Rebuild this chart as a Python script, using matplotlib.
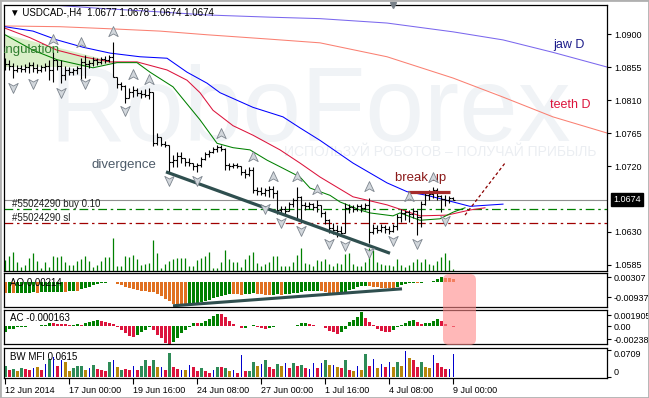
import numpy as np
import matplotlib
matplotlib.use("Agg")
import matplotlib.pyplot as plt
from matplotlib.path import Path
from matplotlib.patches import FancyBboxPatch, Polygon, Rectangle
from matplotlib.transforms import blended_transform_factory
from matplotlib.ticker import FormatStrFormatter

plt.rcParams['font.family'] = ['Liberation Sans', 'DejaVu Sans']

# --- USDCAD H4 bars ---
first_open = 1.0862
high = [1.0867, 1.0865, 1.0861, 1.0858, 1.0858, 1.0859, 1.0862, 1.0862, 1.0859, 1.0858,
        1.0861, 1.0865, 1.0875, 1.0865, 1.0865, 1.0856, 1.0855, 1.0854, 1.0856, 1.0867,
        1.0871, 1.0865, 1.0869, 1.0867, 1.0869, 1.0870, 1.0871, 1.0889, 1.0841, 1.0835,
        1.0830, 1.0826, 1.0829, 1.0826, 1.0824, 1.0825, 1.0826, 1.0821, 1.0765, 1.0760,
        1.0754, 1.0749, 1.0735, 1.0739, 1.0739, 1.0731, 1.0731, 1.0724, 1.0724, 1.0732,
        1.0739, 1.0742, 1.0746, 1.0749, 1.0749, 1.0745, 1.0724, 1.0724, 1.0724, 1.0720,
        1.0716, 1.0719, 1.0719, 1.0691, 1.0691, 1.0690, 1.0693, 1.0693, 1.0687, 1.0665,
        1.0665, 1.0671, 1.0676, 1.0691, 1.0679, 1.0671, 1.0671, 1.0670, 1.0674, 1.0667,
        1.0659, 1.0648, 1.0642, 1.0640, 1.0638, 1.0670, 1.0668, 1.0667, 1.0668, 1.0668,
        1.0670, 1.0676, 1.0641, 1.0640, 1.0641, 1.0640, 1.0638, 1.0641, 1.0655, 1.0661,
        1.0660, 1.0660, 1.0663, 1.0660, 1.0672, 1.0685, 1.0687, 1.0691, 1.0690, 1.0680,
        1.0680, 1.0679, 1.0678]
low = [1.0851, 1.0851, 1.0840, 1.0848, 1.0848, 1.0848, 1.0847, 1.0848, 1.0847, 1.0848,
       1.0850, 1.0837, 1.0835, 1.0851, 1.0833, 1.0837, 1.0844, 1.0844, 1.0845, 1.0837,
       1.0840, 1.0854, 1.0856, 1.0858, 1.0859, 1.0861, 1.0862, 1.0841, 1.0826, 1.0824,
       1.0806, 1.0813, 1.0814, 1.0815, 1.0813, 1.0814, 1.0811, 1.0747, 1.0749, 1.0747,
       1.0746, 1.0712, 1.0719, 1.0719, 1.0724, 1.0720, 1.0720, 1.0715, 1.0712, 1.0719,
       1.0728, 1.0732, 1.0738, 1.0739, 1.0740, 1.0715, 1.0715, 1.0717, 1.0717, 1.0708,
       1.0704, 1.0706, 1.0683, 1.0680, 1.0680, 1.0679, 1.0678, 1.0676, 1.0655, 1.0656,
       1.0655, 1.0659, 1.0664, 1.0646, 1.0642, 1.0660, 1.0661, 1.0660, 1.0657, 1.0650,
       1.0641, 1.0629, 1.0627, 1.0623, 1.0625, 1.0628, 1.0656, 1.0657, 1.0659, 1.0657,
       1.0660, 1.0615, 1.0627, 1.0629, 1.0630, 1.0629, 1.0627, 1.0630, 1.0633, 1.0644,
       1.0646, 1.0644, 1.0649, 1.0626, 1.0637, 1.0667, 1.0674, 1.0676, 1.0674, 1.0657,
       1.0665, 1.0670, 1.0674]
close = [1.0859, 1.0856, 1.0851, 1.0854, 1.0852, 1.0855, 1.0858, 1.0854, 1.0851, 1.0855,
         1.0856, 1.0851, 1.0865, 1.0856, 1.0844, 1.0851, 1.0848, 1.0851, 1.0854, 1.0862,
         1.0859, 1.0861, 1.0865, 1.0862, 1.0866, 1.0865, 1.0869, 1.0841, 1.0832, 1.0829,
         1.0813, 1.0821, 1.0824, 1.0820, 1.0818, 1.0817, 1.0821, 1.0751, 1.0760, 1.0750,
         1.0749, 1.0725, 1.0728, 1.0734, 1.0731, 1.0725, 1.0724, 1.0720, 1.0721, 1.0730,
         1.0736, 1.0739, 1.0743, 1.0746, 1.0743, 1.0721, 1.0720, 1.0721, 1.0720, 1.0712,
         1.0709, 1.0715, 1.0687, 1.0686, 1.0683, 1.0687, 1.0689, 1.0683, 1.0660, 1.0661,
         1.0659, 1.0668, 1.0674, 1.0678, 1.0667, 1.0665, 1.0668, 1.0664, 1.0667, 1.0656,
         1.0646, 1.0635, 1.0633, 1.0631, 1.0629, 1.0663, 1.0664, 1.0661, 1.0665, 1.0663,
         1.0667, 1.0630, 1.0635, 1.0633, 1.0637, 1.0634, 1.0631, 1.0638, 1.0650, 1.0656,
         1.0657, 1.0655, 1.0659, 1.0650, 1.0668, 1.0680, 1.0682, 1.0687, 1.0679, 1.0675,
         1.0674, 1.0677, 1.0674]
volume = [1100, 1500, 1900, 900, 400, 600, 1300, 1800, 1000, 300,
          900, 400, 1500, 1400, 1500, 900, 600, 600, 1000, 1200,
          1500, 1000, 400, 600, 1000, 1400, 1400, 3300, 500, 500,
          1500, 1400, 1600, 1200, 600, 700, 800, 3100, 1800, 300,
          700, 1000, 1200, 1300, 1300, 1300, 500, 500, 1100, 1300,
          1500, 1900, 300, 300, 900, 2100, 1200, 900, 900, 400,
          1200, 1600, 1900, 800, 500, 700, 900, 1500, 1500, 500,
          500, 500, 900, 1600, 2300, 800, 700, 500, 1100, 1000,
          1200, 700, 500, 800, 700, 1700, 1800, 700, 500, 500,
          900, 2300, 2100, 900, 700, 600, 600, 500, 1200, 600,
          400, 600, 900, 1200, 900, 1200, 700, 600, 1000, 1400,
          1800, 1100, 200]

# alligator lines (bar index, price)
jaw_x = [0, 7, 13, 19.5, 26.25, 33.75, 40.5, 45.5, 50.5, 53.75, 62, 69.5, 73.75,
         78.75, 87, 95.5, 100.5, 105.5, 112, 116.25, 124.5]
jaw_y = [1.0910, 1.0904, 1.0892, 1.0882, 1.0874, 1.0869, 1.0867, 1.0848, 1.0833, 1.0820,
         1.0800, 1.0787, 1.0772, 1.0755, 1.0724, 1.0697, 1.0685, 1.0680, 1.0671, 1.0665, 1.0668]
teeth_x = [0, 6.25, 13, 19.5, 26.25, 33, 40.5, 45.5, 48.75, 52, 57, 62, 68.75, 73.75,
           78.75, 87, 95.5, 103.75, 110.5, 116.25, 120]
teeth_y = [1.0908, 1.0895, 1.0878, 1.0869, 1.0862, 1.0862, 1.0851, 1.0837, 1.0820, 1.0796,
           1.0775, 1.0762, 1.0742, 1.0724, 1.0705, 1.0678, 1.0667, 1.0652, 1.0653, 1.0660, 1.0663]
lips_x = [0, 7, 13, 22, 28, 33, 36.25, 42, 48.75, 53, 57, 61.25, 65.5, 68.75, 73.75,
          76.25, 81.25, 83.75, 88.75, 91.25, 97, 98.75, 103.75, 108.75, 112, 115]
lips_y = [1.0899, 1.0878, 1.0865, 1.0854, 1.0861, 1.0861, 1.0848, 1.0828, 1.0783, 1.0751,
          1.0745, 1.0742, 1.0728, 1.0719, 1.0705, 1.0690, 1.0680, 1.0671, 1.0660, 1.0656,
          1.0652, 1.0656, 1.0646, 1.0648, 1.0657, 1.0663]
jaw_d_x = [10.75, 23.75, 36.25, 50.5, 66.25, 78.75, 95.5, 112, 124.5, 137, 150.5]
jaw_d_y = [1.0940, 1.0935, 1.0931, 1.0926, 1.0923, 1.0921, 1.0915, 1.0903, 1.0892, 1.0875, 1.0855]
teeth_d_x = [0, 13.75, 27, 38.75, 50.5, 66.25, 78.75, 95.5, 112, 124.5, 137, 150.5]
teeth_d_y = [1.0911, 1.0910, 1.0907, 1.0904, 1.0899, 1.0893, 1.0888, 1.0869, 1.0840, 1.0814,
             1.0787, 1.0765]

# fractals
up_idx = [12, 19, 27, 32, 36, 54, 62, 67, 73, 78, 91, 101, 107]
up_price = [1.0892, 1.0888, 1.0903, 1.0844, 1.0837, 1.0764, 1.0732, 1.0705, 1.0705,
            1.0687, 1.0691, 1.0678, 1.0704]
down_idx = [2, 7, 14, 20, 30, 41, 48, 65, 69, 74, 81, 85, 91, 97, 103, 110]
down_price = [1.0828, 1.0833, 1.0821, 1.0833, 1.0796, 1.0701, 1.0701, 1.0663, 1.0644,
              1.0633, 1.0615, 1.0612, 1.0603, 1.0619, 1.0615, 1.0646]

# oscillators (x 1e-3)
ao = [-6.90, -6.78, -6.96, -6.72, -6.60, -6.54, -6.48, -6.42, -6.54, -6.30,
      -6.24, -6.18, -6.12, -6.00, -5.94, -6.00, -5.82, -5.70, -5.82, -4.50,
      -3.60, -2.82, -2.10, -1.50, -0.90, -0.54, -0.30, -0.18, -1.20, -2.10,
      -3.00, -3.90, -4.50, -5.10, -5.40, -5.70, -6.00, -6.42, -7.20, -8.82,
      -10.38, -11.82, -13.80, -13.92, -13.98, -14.04, -13.80, -13.50, -12.90, -12.30,
      -11.70, -10.80, -9.90, -9.00, -8.40, -7.80, -7.20, -7.38, -7.56, -7.74,
      -7.50, -7.20, -6.90, -7.20, -7.50, -7.80, -8.10, -7.80, -7.50, -7.80,
      -7.50, -7.20, -6.90, -6.60, -6.30, -5.70, -5.58, -5.40, -5.28, -5.52,
      -6.00, -6.60, -6.90, -7.08, -6.60, -6.00, -5.10, -4.20, -3.30, -2.70,
      -2.40, -2.58, -3.00, -3.30, -3.60, -3.78, -3.96, -4.08, -3.00, -2.10,
      -1.50, -0.90, -0.48, -0.90, -0.36, -0.18, 0.12, 0.90, 1.80, 3.07,
      2.70, 2.40, 2.14]
ac = [-1.03, -0.59, -0.45, -0.22, -0.13, -0.09, -0.05, 0.04, 0.09, 0.14,
      0.27, 0.54, 0.50, 0.43, 0.36, 0.29, 0.22, 0.25, 0.29, 0.18,
      0.49, 0.77, 0.95, 1.08, 0.99, 0.81, 0.59, 0.36, -0.13, -0.72,
      -1.31, -1.71, -1.98, -1.62, -1.08, -0.63, -0.14, -0.72, -1.62, -2.21,
      -3.01, -3.15, -2.88, -2.11, -1.21, -0.72, -0.18, 0.54, 0.49, 0.63,
      0.90, 1.26, 1.80, 2.16, 2.12, 1.62, 0.90, 0.36, 0.05, -0.36,
      -0.27, 0.09, 0.13, -0.18, -0.36, -0.54, -0.36, -0.09, 0.09, 0.05,
      0.09, 0.07, 0.04, 0.27, 0.54, 0.58, 0.45, 0.18, -0.02, 0.05,
      -0.36, -0.90, -1.08, -1.35, -1.08, -0.45, 0.72, 1.17, 1.62, 2.52,
      1.44, 0.72, 0.18, -0.45, -0.90, -0.99, -1.03, -0.72, -0.18, 0.18,
      0.63, 0.99, 1.08, 0.72, 0.45, 0.54, 0.63, 0.90, 1.26, 0.90,
      0.45, -0.02, -0.163]
mfi = [0.0286, 0.0187, 0.0214, 0.0152, 0.0240, 0.0214, 0.0179, 0.0240, 0.0267, 0.0195,
       0.0355, 0.0481, 0.0534, 0.0286, 0.0462, 0.0392, 0.0152, 0.0240, 0.0302, 0.0286,
       0.0195, 0.0240, 0.0328, 0.0214, 0.0195, 0.0152, 0.0392, 0.0446, 0.0267, 0.0195,
       0.0214, 0.0179, 0.0286, 0.0179, 0.0302, 0.0462, 0.0286, 0.0462, 0.0267, 0.0267,
       0.0195, 0.0641, 0.0267, 0.0214, 0.0195, 0.0179, 0.0328, 0.0267, 0.0168, 0.0240,
       0.0168, 0.0107, 0.0195, 0.0267, 0.0259, 0.0240, 0.0152, 0.0195, 0.0107, 0.0595,
       0.0168, 0.0168, 0.0400, 0.0286, 0.0355, 0.0462, 0.0267, 0.0214, 0.0347, 0.0302,
       0.0374, 0.0240, 0.0374, 0.0302, 0.0328, 0.0240, 0.0214, 0.0374, 0.0240, 0.0374,
       0.0462, 0.0328, 0.0328, 0.0267, 0.0240, 0.0462, 0.0195, 0.0168, 0.0286, 0.0179,
       0.0622, 0.0302, 0.0481, 0.0240, 0.0355, 0.0267, 0.0392, 0.0267, 0.0400, 0.0286,
       0.0686, 0.0507, 0.0446, 0.0267, 0.0400, 0.0267, 0.0240, 0.0595, 0.0374, 0.0267,
       0.0214, 0.0214, 0.0615]
mfi_kind = ("g r g b g r r u b r  u g u r u b b g g g  b u g r r r g u b g  "
            "r r u r g g r g b u  r g r r u b u r r g  r r u g r g b u r u  "
            "r g g b u g r r g b  u r g r g r u u r u  g b u b r g r b u b  "
            "g r u b u r u b g b  u b r r g b b u r r  r u u").split()

tick_idx = [0, 16, 32, 48, 64, 80, 96, 112]
tick_lbl = ['12 Jun 2014', '17 Jun 00:00', '19 Jun 16:00', '24 Jun 08:00',
            '27 Jun 00:00', '1 Jul 16:00', '4 Jul 08:00', '9 Jul 00:00']

W, H = 649, 398
fig = plt.figure(figsize=(W / 100, H / 100), dpi=100)
fig.patch.set_facecolor('white')


def panel(top, bottom):
    return fig.add_axes([4 / W, 1 - bottom / H, 603 / W, (bottom - top) / H])


ax = panel(5, 271)
ax_ao = panel(273, 307)
ax_ac = panel(310, 344)
ax_mfi = panel(348, 378)

for a in (ax, ax_ao, ax_ac, ax_mfi):
    a.set_xlim(-0.25, 150.5)
    a.yaxis.tick_right()
    a.tick_params(axis='y', length=3, width=0.8, pad=2, labelsize=6.5, colors='black')
    a.tick_params(axis='x', bottom=False, labelbottom=False)
    for s in a.spines.values():
        s.set_color('black')
        s.set_linewidth(0.9)

idx = np.arange(len(close))
opens = [first_open] + close[:-1]

# --- main price panel ---
ax.set_ylim(1.05768, 1.09396)
ax.set_yticks([1.0900, 1.0855, 1.0810, 1.0765, 1.0720, 1.0630, 1.0585])
ax.yaxis.set_major_formatter(FormatStrFormatter('%.4f'))

ax.text(0.507, 0.49, 'RoboForex', transform=ax.transAxes, fontsize=76, color='#f0f3f6',
        ha='center', va='baseline', zorder=0)
ax.text(0.723, 0.447, 'ИСПОЛЬЗУЙ РОБОТОВ – ПОЛУЧАЙ ПРИБЫЛЬ', transform=ax.transAxes,
        fontsize=10, color='#ebeef2', ha='center', va='center', zorder=0)

ax.add_patch(Polygon([(-1, 1.0901), (28, 1.0861), (20, 1.0855), (-1, 1.0855)],
                     closed=True, fc='#d9efc8', ec='none', zorder=0.5))
ax.text(13.75, 1.0878, 'triangulation', ha='right', va='center', color='#2e7d2e',
        fontsize=9.5, clip_on=True, zorder=3)

vol_tr = blended_transform_factory(ax.transData, ax.transAxes)
ax.vlines(idx, 0, np.array(volume) / 26600, transform=vol_tr, colors='#008000', lw=0.9, zorder=1)

ax.plot(jaw_d_x, jaw_d_y, color='#7b68ee', lw=0.75, zorder=1.5)
ax.plot(teeth_d_x, teeth_d_y, color='#fa8072', lw=0.75, zorder=1.5)
ax.plot(jaw_x, jaw_y, color='#0000ff', lw=0.75, zorder=1.6)
ax.plot(teeth_x, teeth_y, color='#dc143c', lw=0.75, zorder=1.6)
ax.plot(lips_x, lips_y, color='#008000', lw=0.75, zorder=1.6)

ax.axhline(1.0674, color='#909090', lw=0.8, zorder=1.2)
ax.axhline(1.0661, color='#008000', lw=0.9, dashes=(7, 3, 2, 3), zorder=1.2)
ax.axhline(1.0642, color='#a00000', lw=0.9, dashes=(7, 3, 2, 3), zorder=1.2)
ax.text(1.75, 1.0668, '#55024290 buy 0.10', fontsize=7, va='center', color='#202020', zorder=3)
ax.text(1.75, 1.0649, '#55024290 sl', fontsize=7, va='center', color='#202020', zorder=3)

ax.vlines(idx, low, high, colors='black', lw=0.8, zorder=2)
ax.hlines(opens, idx - 0.45, idx, colors='black', lw=0.8, zorder=2)
ax.hlines(close, idx, idx + 0.45, colors='black', lw=0.8, zorder=2)

up_mark = Path([(0, 1), (0.8, -0.7), (0, -0.25), (-0.8, -0.7), (0, 1)],
               [Path.MOVETO, Path.LINETO, Path.LINETO, Path.LINETO, Path.CLOSEPOLY])
down_mark = Path([(0, -1), (0.8, 0.7), (0, 0.25), (-0.8, 0.7), (0, -1)],
                 [Path.MOVETO, Path.LINETO, Path.LINETO, Path.LINETO, Path.CLOSEPOLY])
ax.plot(up_idx, up_price, ls='none', marker=up_mark, ms=8.5, mfc='#d2d7dc', mec='#7d858e',
        mew=0.6, zorder=4)
ax.plot(down_idx, down_price, ls='none', marker=down_mark, ms=8.5, mfc='#d2d7dc', mec='#7d858e',
        mew=0.6, zorder=4)
ax.plot([97], [1.0], transform=vol_tr, marker='v', ms=5, color='#778088', clip_on=False, zorder=5)

ax.plot([40.25, 96.25], [1.0712, 1.0601], color='#2f4f4f', lw=2.3, solid_capstyle='butt', zorder=3)
ax.text(21.75, 1.0721, 'divergence', color='#4d5b69', fontsize=9.5, va='center', zorder=3)
ax.plot([100.75, 111.25], [1.0685, 1.0685], color='#a52a2a', lw=2.3, solid_capstyle='butt', zorder=3)
ax.text(97.5, 1.0704, 'break up', color='#8b1a1a', fontsize=9.5, va='center', zorder=3)
ax.plot([115, 125], [1.0653, 1.0724], color='#8b0000', lw=0.9, dashes=(2.5, 2), zorder=3)

ax.text(137, 1.0885, 'jaw D', color='#1c1c8a', fontsize=9, va='center')
ax.text(136.3, 1.0803, 'teeth D', color='#dc143c', fontsize=9, va='center')

ax.text(0.01, 0.97, '▼ USDCAD-,H4  1.0677 1.0678 1.0674 1.0674', transform=ax.transAxes,
        fontsize=7, va='center', zorder=5)
box_tr = blended_transform_factory(ax.transAxes, ax.transData)
ax.text(1.01, 1.0674, '1.0674', transform=box_tr, color='white', fontsize=6.5, va='center',
        ha='left', clip_on=False,
        bbox=dict(boxstyle='square,pad=0.25', fc='black', ec='black'))

# --- AO ---
ao_v = np.array(ao) * 1e-3
ao_cols = ['#e07020'] + ['#008000' if ao_v[i] >= ao_v[i - 1] else '#e07020'
                         for i in range(1, len(ao_v))]
ax_ao.bar(idx, ao_v, width=0.75, color=ao_cols, lw=0)
ax_ao.set_ylim(-0.01535, 0.00553)
ax_ao.set_yticks([0.00307, -0.00937])
ax_ao.set_yticklabels(['0.00307', '-0.00937'])
ax_ao.plot([42, 99.25], [-0.0146, -0.0042], color='#2f4f4f', lw=2.2, solid_capstyle='butt')
ax_ao.text(0.01, 0.7, 'AO 0.00214', transform=ax_ao.transAxes, fontsize=7, va='center')

# --- AC ---
ac_v = np.array(ac) * 1e-3
ac_cols = ['#008000'] + ['#008000' if ac_v[i] >= ac_v[i - 1] else '#dc143c'
                         for i in range(1, len(ac_v))]
ax_ac.bar(idx, ac_v, width=0.75, color=ac_cols, lw=0)
ax_ac.set_ylim(-0.00324, 0.00288)
ax_ac.set_yticks([0.001905, 0.0, -0.00238])
ax_ac.set_yticklabels(['0.001905', '0.00', '-0.00238'])
ax_ac.text(0.01, 0.76, 'AC -0.000163', transform=ax_ac.transAxes, fontsize=7, va='center')

# --- BW MFI ---
kind_col = {'g': '#2e8b57', 'b': '#b8860b', 'u': '#0000cd', 'r': '#dc143c'}
mfi_cols = [kind_col[k] for k in mfi_kind]
mfi_w = [0.25 if k == 'u' else 0.75 for k in mfi_kind]
ax_mfi.bar(idx, mfi, width=mfi_w, color=mfi_cols, lw=0)
ax_mfi.set_ylim(-0.00267, 0.0774)
ax_mfi.set_yticks([0.0709, 0.0])
ax_mfi.set_yticklabels(['0.0709', '0'])
for t, va in zip(ax_mfi.yaxis.get_major_ticks(), ['top', 'bottom']):
    t.label2.set_va(va)
ax_mfi.text(0.01, 0.7, 'BW MFI 0.0615', transform=ax_mfi.transAxes, fontsize=7, va='center')
ax_mfi.tick_params(axis='x', bottom=True, labelbottom=True, length=4, width=0.8,
                   labelsize=6.5, pad=2)
ax_mfi.set_xticks(tick_idx)
ax_mfi.set_xticklabels(tick_lbl, ha='left')

# highlight box over AO/AC
fig.add_artist(FancyBboxPatch((4.43, 0.53), 0.33, 0.71,
                              boxstyle='round,pad=0,rounding_size=0.06',
                              transform=fig.dpi_scale_trans, fc='#ff8a8a', ec='none',
                              alpha=0.6, zorder=10))
fig.add_artist(Rectangle((0, 0), 1, 1, transform=fig.transFigure, fill=False,
                         ec='#b0b0b0', lw=2))

fig.savefig('out.png', dpi=100)
